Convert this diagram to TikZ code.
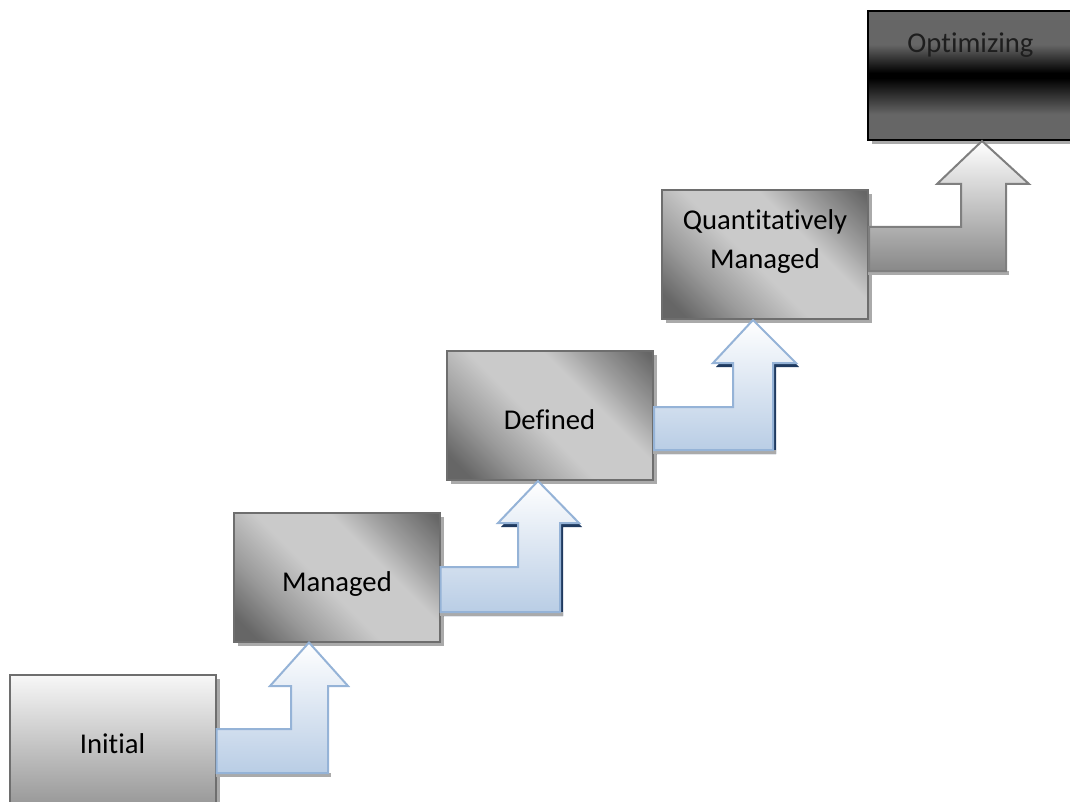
\documentclass[tikz,border=0pt]{standalone}
\usepackage{fontspec}
\setmainfont{Carlito}[Ligatures={NoCommon,NoRequired,NoContextual},RawFeature={-liga;-clig;-dlig}]
\usetikzlibrary{shadings,shadows}
\definecolor{boxdark}{HTML}{666666}
\definecolor{boxmid}{HTML}{9A9A9A}
\definecolor{boxlight}{HTML}{CACACA}
\definecolor{boxline}{HTML}{6E6E6E}
\definecolor{arrowblue}{HTML}{B9CDE5}
\definecolor{arrowline}{HTML}{95B3D7}
\definecolor{navyshadow}{HTML}{1F3A60}
\definecolor{softshadow}{HTML}{AAAAAA}
\definecolor{grayarrow}{HTML}{888888}
\definecolor{grayline}{HTML}{7F7F7F}
\definecolor{optgray}{HTML}{666666}
\definecolor{opttext}{HTML}{1E1E1E}
\pgfdeclarehorizontalshading{diagbox}{100bp}{color(0bp)=(boxdark); color(20bp)=(boxdark); color(32bp)=(boxmid); color(46bp)=(boxlight); color(62bp)=(boxlight); color(72bp)=(boxmid); color(84bp)=(boxdark); color(100bp)=(boxdark)}
\pgfdeclareverticalshading{optshade}{100bp}{color(0bp)=(optgray); color(35bp)=(optgray); color(49bp)=(black); color(51bp)=(black); color(62bp)=(optgray); color(100bp)=(optgray)}
\tikzset{
  stagebox/.style={draw=boxline, line width=1.5pt, shading=diagbox, shading angle=45,
    minimum width=154.5pt, minimum height=96.75pt, inner sep=0pt,
    drop shadow={shadow xshift=3pt, shadow yshift=-3pt, fill=softshadow, opacity=1}},
  initbox/.style={stagebox, shading=axis, top color=white!97!black, bottom color=black!40, shading angle=0},
  optbox/.style={stagebox, draw=black, shading=optshade, shading angle=0},
  lbl/.style={font=\fontsize{21.5}{28.5}\selectfont, text=black, inner sep=0pt, anchor=base, align=center},
  bluearrow/.style={draw=arrowline, line width=1.5pt, top color=white, bottom color=arrowblue, line join=miter},
  grayarrowstyle/.style={draw=grayline, line width=1.5pt, top color=white, bottom color=grayarrow, line join=miter},
  navyshade/.style={fill=navyshadow},
  softshade/.style={fill=softshadow}
}
\begin{document}
\begin{tikzpicture}[x=0.75pt, y=-0.75pt]
\useasboundingbox (0,0) rectangle (1070,802);
\clip (0,0) rectangle (1070,802);
% boxes
\node[initbox] (initial) at (112.5,739.5) {};
\node[stagebox] (managed) at (336.5,577) {};
\node[stagebox] (defined) at (550,415.5) {};
\node[stagebox] (quant) at (765,254.5) {};
\node[optbox] (optimizing) at (971,75.5) {};
% labels
\node[lbl] (initiallbl) at (112.5,753) {Initial};
\node[lbl] (managedlbl) at (337,591) {Managed};
\node[lbl] (definedlbl) at (549.5,429) {Defined};
\node[lbl] (quantlbl) at (765,268) {Quantitatively\\Managed};
\node[lbl, text=opttext] (optimizinglbl) at (970.5,53) {Optimizing};
% arrow Initial -> Managed
\fill[softshade] (216,773) rectangle (331,777);
\path[bluearrow] (initial.east |- 0,729) -- (291,729) -- (291,686) -- (270,686) -- (managed.south -| 309,0) -- (348,686) -- (328,686) -- (328,773) -- (initial.east |- 0,773) -- cycle;
% arrow Managed -> Defined
\path[navyshade, shift={(3,4)}] (440,567) -- (518,567) -- (518,523) -- (498,523) -- (538,481) -- (579,523) -- (560,523) -- (560,612) -- (440,612) -- cycle;
\fill[softshade] (440,612) rectangle (563,616);
\path[bluearrow] (managed.east |- 0,567) -- (518,567) -- (518,523) -- (498,523) -- (defined.south -| 538,0) -- (579,523) -- (560,523) -- (560,612) -- (managed.east |- 0,612) -- cycle;
% arrow Defined -> Quantitatively Managed
\path[navyshade, shift={(3,4)}] (653,407) -- (733,407) -- (733,363) -- (713,363) -- (753,320) -- (796,363) -- (773,363) -- (773,450) -- (653,450) -- cycle;
\fill[softshade] (653,450) rectangle (776,454);
\path[bluearrow] (defined.east |- 0,407) -- (733,407) -- (733,363) -- (713,363) -- (quant.south -| 753,0) -- (796,363) -- (773,363) -- (773,450) -- (defined.east |- 0,450) -- cycle;
% arrow Quantitatively Managed -> Optimizing
\fill[softshade] (868,271) rectangle (1009,275);
\path[grayarrowstyle] (quant.east |- 0,227) -- (961,227) -- (961,184) -- (937,184) -- (optimizing.south -| 982,0) -- (1029,184) -- (1006,184) -- (1006,271) -- (quant.east |- 0,271) -- cycle;
\end{tikzpicture}
\end{document}
